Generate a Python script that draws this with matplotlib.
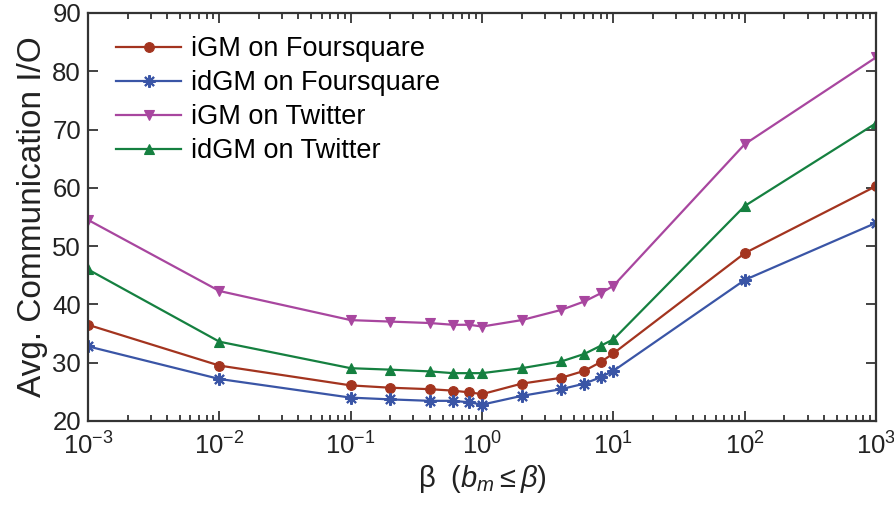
import matplotlib
matplotlib.use("Agg")
import matplotlib.pyplot as plt
from matplotlib.ticker import LogLocator, NullFormatter

plt.rcParams["font.family"] = ["Liberation Sans", "DejaVu Sans"]
plt.rcParams["mathtext.fontset"] = "custom"
plt.rcParams["mathtext.rm"] = "Liberation Sans"
plt.rcParams["mathtext.it"] = "Liberation Sans:italic"
plt.rcParams["mathtext.bf"] = "Liberation Sans:bold"

# beta values on the x axis
beta = [1e-3, 1e-2, 0.1, 0.2, 0.4, 0.6, 0.8, 1, 2, 4, 6, 8, 10, 100, 1000]

igm_foursquare = [36.5, 29.5, 26.1, 25.7, 25.45, 25.2, 24.9, 24.6, 26.4, 27.4, 28.6, 30.1, 31.6, 48.8, 60.3]
idgm_foursquare = [32.8, 27.2, 24.0, 23.7, 23.45, 23.45, 23.2, 22.8, 24.3, 25.45, 26.4, 27.5, 28.6, 44.2, 54.0]
igm_twitter = [54.5, 42.3, 37.3, 37.05, 36.8, 36.5, 36.5, 36.2, 37.3, 39.05, 40.5, 41.9, 43.2, 67.5, 82.4]
idgm_twitter = [46.0, 33.6, 29.05, 28.8, 28.5, 28.2, 28.2, 28.2, 29.05, 30.2, 31.5, 32.9, 34.0, 56.9, 71.1]

series = [
    ("iGM on Foursquare", igm_foursquare, "#A3341F", "o", 7),
    ("idGM on Foursquare", idgm_foursquare, "#3A55A6", (8, 2, 0), 9),
    ("iGM on Twitter", igm_twitter, "#A8469F", "v", 7),
    ("idGM on Twitter", idgm_twitter, "#158040", "^", 7),
]

fig = plt.figure(figsize=(8.95, 5.09), dpi=100)
ax = fig.add_axes([0.0983, 0.173, 0.8807, 0.8015])

for label, vals, color, marker, ms in series:
    ax.plot(beta, vals, color=color, marker=marker, markersize=ms,
            markeredgewidth=1.5 if marker == (8, 2, 0) else 0.8,
            markerfacecolor=color, markeredgecolor=color,
            linewidth=1.6, label=label)

ax.set_xscale("log")
ax.set_xlim(1e-3, 1e3)
ax.set_ylim(20, 90)
ax.set_yticks(range(20, 91, 10))
ax.xaxis.set_major_locator(LogLocator(base=10, numticks=10))
ax.xaxis.set_minor_locator(LogLocator(base=10, subs=range(2, 10), numticks=100))
ax.xaxis.set_minor_formatter(NullFormatter())

ax.tick_params(axis="both", which="both", direction="in", top=True, right=True,
               labelsize=18.5, width=1.2, colors="#222222")
ax.tick_params(axis="y", which="major", length=7, pad=5)
ax.tick_params(axis="x", which="major", length=7, pad=8)
ax.tick_params(axis="x", which="minor", length=4)
for sp in ax.spines.values():
    sp.set_linewidth(1.6)
    sp.set_color("#333333")

ax.set_ylabel("Avg. Communication I/O", fontsize=24, color="#222222", labelpad=3)
ax.set_xlabel(r"$\mathrm{\beta}$  $(b_m \leq \beta)$", fontsize=21, color="#222222", labelpad=3)

ax.legend(loc="upper left", bbox_to_anchor=(0.012, 0.99), frameon=False,
          fontsize=19.5, handlelength=2.4, handletextpad=0.35, labelspacing=0.3,
          borderaxespad=0.3)

fig.savefig("out.png", dpi=100)
